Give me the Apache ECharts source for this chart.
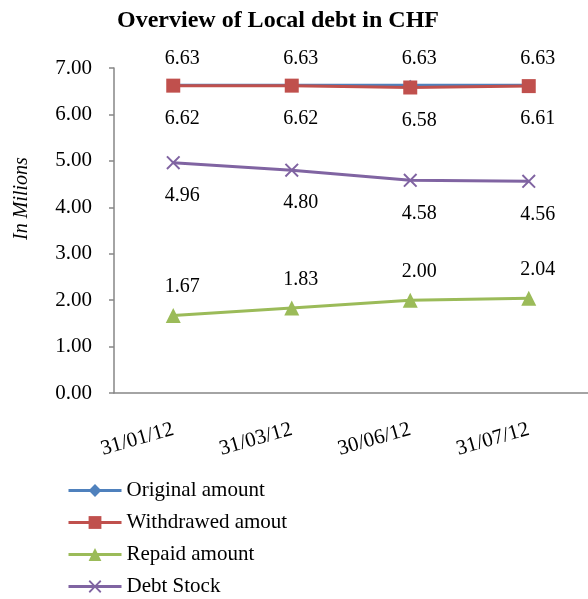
<!DOCTYPE html>
<html>
<head>
  <meta charset="UTF-8">
  <title>Overview of Local debt in CHF</title>
  <style>
    html, body { margin: 0; padding: 0; background: #fff; }
    #chart { width: 588px; height: 599px; }
  </style>
  <script src="https://cdn.jsdelivr.net/npm/echarts@6/dist/echarts.min.js"></script>
</head>
<body>
  <div id="chart"></div>
  <script>
    var dates = ['31/01/12', '31/03/12', '30/06/12', '31/07/12'];
    var originalAmount = [6.63, 6.63, 6.63, 6.63];
    var withdrawedAmount = [6.62, 6.62, 6.58, 6.61];
    var repaidAmount = [1.67, 1.83, 2.00, 2.04];
    var debtStock = [4.96, 4.80, 4.58, 4.56];

    var serif = 'Liberation Serif';
    // filled X shape for the Debt Stock markers
    var crossPath = 'path://M0,1 L1,0 L5,4 L9,0 L10,1 L6,5 L10,9 L9,10 L5,6 L1,10 L0,9 L4,5 Z';

    function lbl(pos, dist) {
      return {
        show: true,
        position: pos,
        distance: dist,
        offset: [9, 0],
        color: '#000',
        fontFamily: serif,
        fontSize: 20,
        formatter: function (p) { return p.value.toFixed(2); }
      };
    }

    function line(name, data, color, symbol, size, label) {
      return {
        name: name,
        type: 'line',
        data: data,
        symbol: symbol,
        symbolSize: size,
        lineStyle: { color: color, width: 3 },
        itemStyle: { color: color },
        label: label
      };
    }

    var myChart = echarts.init(document.getElementById('chart'));
    myChart.setOption({
      animation: false,
      textStyle: { fontFamily: serif },
      title: {
        text: 'Overview of Local debt in CHF',
        left: 112,
        top: 4,
        textStyle: { fontFamily: serif, fontSize: 24, fontWeight: 'bold', color: '#000' }
      },
      grid: { left: 114, right: 0, top: 68, bottom: 206 },
      legend: {
        orient: 'vertical',
        left: 67,
        top: 480,
        padding: 0,
        itemWidth: 53,
        itemHeight: 16,
        itemGap: 11,
        lineStyle: { width: 3 },
        textStyle: { fontFamily: serif, fontSize: 21, color: '#000', lineHeight: 21 },
        data: ['Original amount', 'Withdrawed amout', 'Repaid amount', 'Debt Stock']
      },
      xAxis: {
        type: 'category',
        data: dates,
        axisLine: { lineStyle: { color: '#868686', width: 1.5 } },
        axisTick: { length: 5, lineStyle: { color: '#868686', width: 1.5 } },
        axisLabel: { rotate: 16, margin: 36, color: '#000', fontFamily: serif, fontSize: 21 }
      },
      yAxis: {
        type: 'value',
        min: 0,
        max: 7,
        interval: 1,
        name: 'In Milions',
        nameLocation: 'middle',
        nameGap: 82,
        nameTextStyle: { fontFamily: serif, fontSize: 20, fontStyle: 'italic', color: '#000', padding: [0, 0, 0, 64] },
        splitLine: { show: false },
        axisLine: { show: true, lineStyle: { color: '#868686', width: 1.5 } },
        axisTick: { show: true, length: 5, lineStyle: { color: '#868686', width: 1.5 } },
        axisLabel: {
          margin: 22,
          color: '#000',
          fontFamily: serif,
          fontSize: 21,
          formatter: function (v) { return v.toFixed(2); }
        }
      },
      series: [
        line('Original amount', originalAmount, '#4F81BD', 'diamond', 11, lbl('top', 11)),
        line('Withdrawed amout', withdrawedAmount, '#C0504D', 'rect', 14, lbl('bottom', 16)),
        line('Repaid amount', repaidAmount, '#9BBB59', 'triangle', 15, lbl('top', 11)),
        line('Debt Stock', debtStock, '#8064A2', crossPath, 14, lbl('bottom', 16))
      ]
    });
  </script>
</body>
</html>
